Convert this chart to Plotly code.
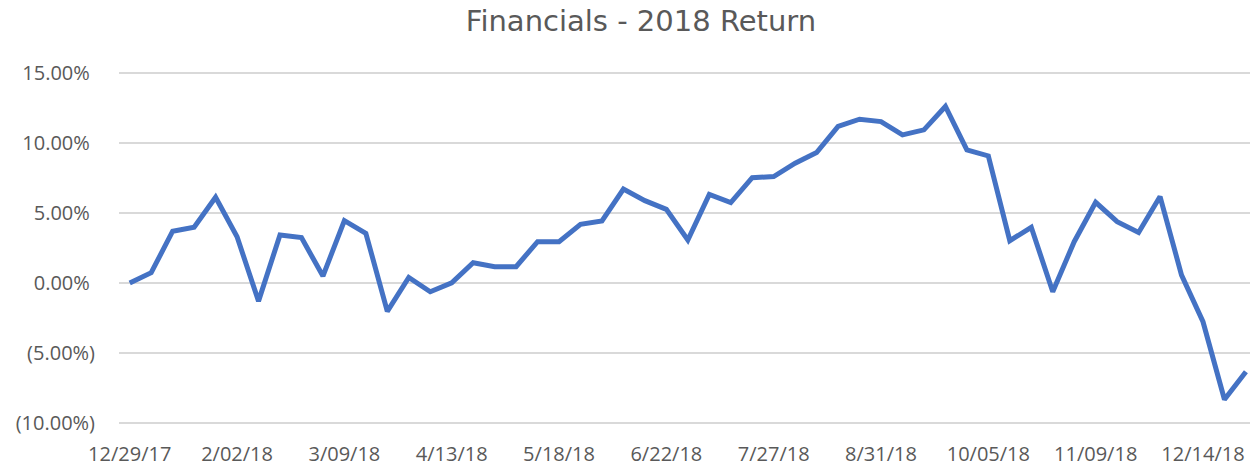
import plotly.graph_objects as go

dates = [
    "12/29/17", "1/05/18", "1/12/18", "1/19/18", "1/26/18", "2/02/18", "2/09/18", "2/16/18",
    "2/23/18", "3/02/18", "3/09/18", "3/16/18", "3/23/18", "3/30/18", "4/06/18", "4/13/18",
    "4/20/18", "4/27/18", "5/04/18", "5/11/18", "5/18/18", "5/25/18", "6/01/18", "6/08/18",
    "6/15/18", "6/22/18", "6/29/18", "7/06/18", "7/13/18", "7/20/18", "7/27/18", "8/03/18",
    "8/10/18", "8/17/18", "8/24/18", "8/31/18", "9/07/18", "9/14/18", "9/21/18", "9/28/18",
    "10/05/18", "10/12/18", "10/19/18", "10/26/18", "11/02/18", "11/09/18", "11/16/18",
    "11/23/18", "11/30/18", "12/07/18", "12/14/18", "12/21/18", "12/28/18",
]

returns_pct = [
    0.00, 0.74, 3.70, 3.98, 6.12, 3.30, -1.29, 3.43, 3.24, 0.50,
    4.45, 3.55, -2.02, 0.40, -0.62, 0.02, 1.45, 1.17, 1.17, 2.95,
    2.95, 4.19, 4.43, 6.71, 5.88, 5.26, 3.07, 6.33, 5.74, 7.52,
    7.60, 8.55, 9.31, 11.17, 11.69, 11.52, 10.57, 10.93, 12.60, 9.50,
    9.07, 3.02, 3.98, -0.62, 2.95, 5.76, 4.38, 3.60, 6.17, 0.57,
    -2.76, -8.31, -6.33,
]

y_tick_vals = [-10, -5, 0, 5, 10, 15]
y_tick_text = ["(10.00%)", "(5.00%)", "0.00%\u00a0", "5.00%\u00a0", "10.00%\u00a0", "15.00%\u00a0"]

x_tick_vals = [0, 5, 10, 15, 20, 25, 30, 35, 40, 45, 50]
x_tick_text = [dates[i] for i in x_tick_vals]

idx = list(range(len(dates)))

fig = go.Figure()
fig.add_trace(go.Scatter(
    x=idx, y=returns_pct, mode="lines",
    line=dict(color="#4472C4", width=5),
    customdata=dates,
    hovertemplate="%{customdata}: %{y:.2f}%<extra></extra>",
))

# y range padded slightly so the -10% and 15% gridlines are drawn
fig.update_layout(
    width=1250, height=466,
    margin=dict(l=119, r=0, t=70, b=40),
    paper_bgcolor="white", plot_bgcolor="white",
    showlegend=False,
    font=dict(family="Open Sans", color="#595959", size=20),
    title=dict(
        text="Financials - 2018 Return",
        x=641 / 1250, xref="container", xanchor="center",
        y=1 - 21 / 466, yref="container", yanchor="middle",
        font=dict(family="DejaVu Sans", size=29, color="#595959"),
    ),
    xaxis=dict(
        range=[-0.5, 52.19],
        tickmode="array", tickvals=x_tick_vals, ticktext=x_tick_text,
        showgrid=False, zeroline=False, showline=False,
        ticks="", ticklabelstandoff=14,
        fixedrange=True,
    ),
    yaxis=dict(
        range=[-10.2, 15.2],
        tickmode="array", tickvals=y_tick_vals, ticktext=y_tick_text,
        showgrid=True, gridcolor="#D9D9D9", gridwidth=1.5,
        zeroline=False, showline=False,
        ticks="", ticklabelstandoff=23,
        fixedrange=True,
    ),
)

fig.write_html("out.html")
